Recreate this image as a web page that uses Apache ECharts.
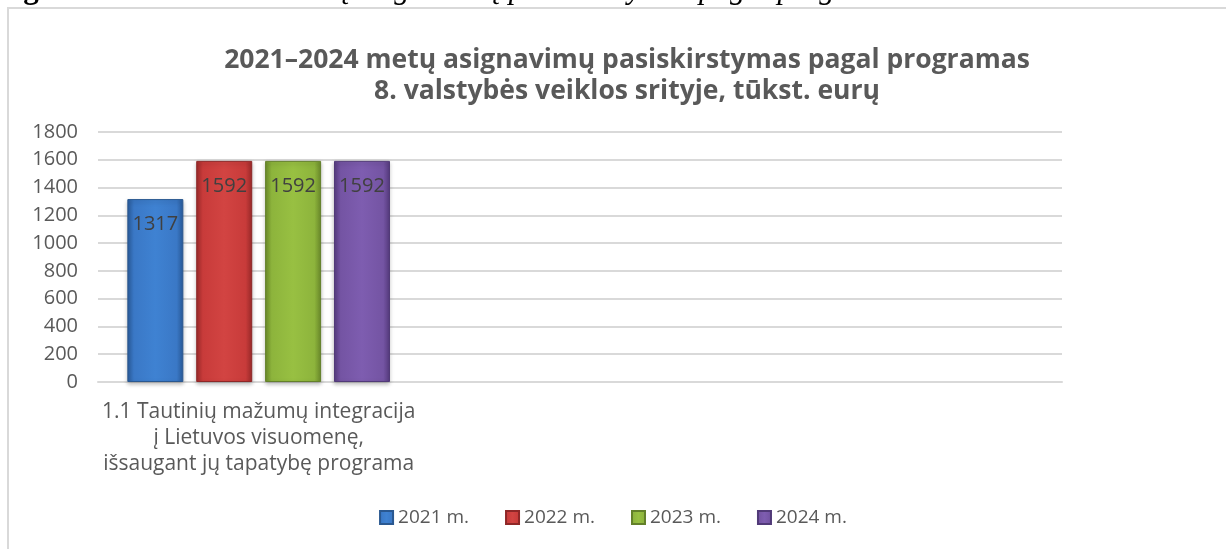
<!DOCTYPE html>
<html>
<head>
<meta charset="utf-8">
<script src="https://cdn.jsdelivr.net/npm/echarts@6/dist/echarts.min.js"></script>
<style>
  html, body { margin: 0; padding: 0; background: #fff; }
  #chart { width: 1226px; height: 549px; }
</style>
</head>
<body>
<div id="chart"></div>
<script>
// duomenys: viena programa, kitos dvi kategorijos tuščios (kaip Excel'yje)
const categories = [
  '1.1 Tautinių mažumų integracija\nį Lietuvos visuomenę,\nišsaugant jų tapatybę programa', '', ''
]
const years = ['2021 m.', '2022 m.', '2023 m.', '2024 m.']
const v2021 = [1317, null, null]
const v2022 = [1592, null, null]
const v2023 = [1592, null, null]
const v2024 = [1592, null, null]
const yTicks = { min: 0, max: 1800, interval: 200 }

const INK = '#595959'
const FONT = '"Open Sans", "DejaVu Sans", sans-serif'

/* bevel imitacija: tamsus kraštas – šviesus vidurys – tamsus kraštas */
const bevel = (dark, mid, light) => new echarts.graphic.LinearGradient(0, 0, 1, 0, [
  { offset: 0, color: dark }, { offset: 0.12, color: mid },
  { offset: 0.5, color: light }, { offset: 0.88, color: mid },
  { offset: 1, color: dark }])

const COLORS = [
  { fill: bevel('#2A5C9C', '#3A78C6', '#3F82D2'), edge: '#2A5890' },
  { fill: bevel('#9E2B2B', '#C83B3A', '#D24442'), edge: '#8E2727' },
  { fill: bevel('#6C8C2B', '#8DB43C', '#98C042'), edge: '#63802A' },
  { fill: bevel('#573C80', '#7454A3', '#7E5DB0'), edge: '#513A78' },
]
const series = [v2021, v2022, v2023, v2024].map((data, i) => ({
  name: years[i], type: 'bar', data,
  barWidth: 56, barGap: '23%',
  itemStyle: { color: COLORS[i].fill, borderColor: COLORS[i].edge, borderWidth: 1,
    shadowColor: 'rgba(0,0,0,.25)', shadowBlur: 4, shadowOffsetY: 2 },
  label: { show: true, position: 'insideTop', distance: 15,
    color: '#404040', fontFamily: FONT, fontSize: 20 },
}))

const chart = echarts.init(document.getElementById('chart'))
chart.setOption({
  animation: false,
  graphic: [
    { type: 'rect', shape: { x: 8, y: 8, width: 1300, height: 600 },
      style: { fill: 'none', stroke: '#D9D9D9', lineWidth: 2 }, silent: true },
    // dokumento antraštė virš diagramos, beveik visa nukirsta
    { type: 'text', left: 0, top: -26,
      style: { text: '{b|1 grafikas.} {i|2021–2024 metų asignavimų pasiskirstymas pagal programas}',
        rich: {
          b: { fontFamily: '"Liberation Serif", serif', fontWeight: 'bold', fontSize: 31, fill: '#000' },
          i: { fontFamily: '"Liberation Serif", serif', fontStyle: 'italic', fontSize: 31, fill: '#000' },
        } } },
  ],
  title: {
    text: '2021–2024 metų asignavimų pasiskirstymas pagal programas\n8. valstybės veiklos srityje, tūkst. eurų',
    left: 622, textAlign: 'center', top: 40,
    textStyle: { color: INK, fontFamily: FONT, fontWeight: 'bold', fontSize: 26.5, lineHeight: 31 },
  },
  legend: {
    data: years, bottom: 17, left: 'center', itemGap: 36,
    itemWidth: 13, itemHeight: 13, icon: 'rect',
    textStyle: { color: INK, fontFamily: FONT, fontSize: 19 },
  },
  grid: { left: 98, right: 164, top: 132, bottom: 167 },
  xAxis: {
    type: 'category', data: categories,
    axisLine: { lineStyle: { color: '#D9D9D9', width: 2 } },
    axisTick: { show: false },
    axisLabel: { color: INK, fontFamily: FONT, fontSize: 21, lineHeight: 26, margin: 17, interval: 0 },
  },
  yAxis: {
    type: 'value', ...yTicks,
    axisLine: { show: false }, axisTick: { show: false },
    axisLabel: { color: INK, fontFamily: FONT, fontSize: 20, margin: 20, formatter: v => String(v) },
    splitLine: { lineStyle: { color: '#D9D9D9', width: 2 } },
  },
  series,
})
</script>
</body>
</html>
